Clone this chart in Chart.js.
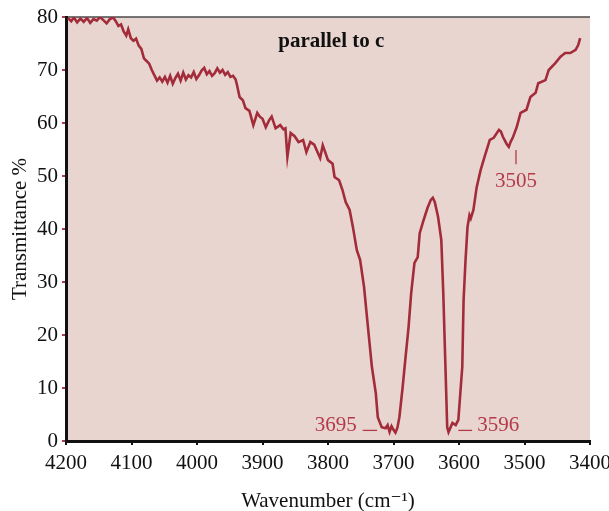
<!DOCTYPE html>
<html>
<head>
<meta charset="utf-8">
<script src="https://cdn.jsdelivr.net/npm/chart.js@4"></script>
<style>
  body { margin: 0; background: #fff; }
  #wrap { width: 609px; height: 511px; }
</style>
</head>
<body>
<div id="wrap"><canvas id="irChart" width="609" height="511"></canvas></div>
<script>
// spectrum (wavenumber cm-1, transmittance %)
const wavenumbers = [
  4197, 4192, 4188, 4183, 4178, 4173, 4168, 4163, 4158, 4153, 4148, 4143, 4138, 4133, 4128, 4124,
  4120, 4116, 4112, 4108, 4105, 4101, 4097, 4093, 4089, 4085, 4081, 4077, 4073, 4069, 4065, 4061,
  4057, 4053, 4049, 4045, 4041, 4037, 4033, 4029, 4025, 4021, 4017, 4013, 4009, 4005, 4001, 3997,
  3993, 3989, 3985, 3981, 3977, 3973, 3969, 3965, 3961, 3957, 3953, 3949, 3945, 3941, 3939, 3935,
  3930, 3926, 3920, 3914, 3908, 3904, 3900, 3895, 3890, 3886, 3880, 3873, 3868, 3865, 3862, 3857,
  3851, 3845, 3838, 3833, 3827, 3821, 3812, 3808, 3800, 3793, 3790, 3783, 3778, 3773, 3767, 3762,
  3756, 3751, 3745, 3739, 3733, 3727, 3724, 3718, 3712, 3709, 3706, 3703, 3700, 3697, 3694, 3691,
  3686, 3682, 3677, 3673, 3668, 3663, 3660, 3654, 3648, 3643, 3640, 3637, 3632, 3627, 3624, 3621,
  3618, 3616, 3610, 3605, 3601, 3595, 3593, 3590, 3587, 3584, 3582, 3578, 3573, 3567, 3561, 3553,
  3547, 3539, 3536, 3533, 3527, 3524, 3521, 3518, 3512, 3506, 3497, 3491, 3483, 3479, 3468, 3463,
  3453, 3445, 3438, 3430, 3422, 3418, 3415
];
const transmittance = [
  79.8, 79.2, 79.9, 79.0, 79.7, 79.1, 79.8, 78.9, 79.6, 79.3, 80.0, 79.4, 78.8, 79.6, 79.9, 79.2,
  78.3, 78.6, 77.3, 76.5, 77.7, 76.0, 75.5, 75.9, 74.6, 74.0, 72.2, 71.7, 71.2, 70.0, 69.0, 68.0,
  68.6, 67.8, 68.7, 67.6, 68.9, 67.4, 68.5, 69.3, 68.0, 69.5, 68.2, 69.0, 68.6, 69.6, 68.3, 69.0,
  69.9, 70.4, 69.2, 69.8, 68.9, 69.4, 70.3, 69.5, 70.0, 69.1, 69.6, 68.7, 68.9, 68.2, 67.2, 64.9,
  64.3, 62.8, 62.3, 59.6, 61.9, 61.2, 60.8, 59.2, 60.5, 61.2, 59.0, 59.6, 58.8, 59.0, 53.6, 58.1,
  57.5, 56.4, 56.8, 54.5, 56.4, 55.9, 53.4, 55.8, 53.0, 52.3, 49.8, 49.2, 47.4, 45.1, 43.6, 40.4,
  36.0, 34.2, 29.1, 21.5, 14.0, 9.0, 4.5, 2.6, 2.4, 3.0, 1.7, 2.8, 2.1, 1.6, 2.5, 4.5,
  10.2, 15.3, 21.5, 27.9, 33.6, 34.7, 39.2, 41.7, 44.0, 45.5, 45.9, 45.1, 42.3, 37.9, 27.9, 15.3,
  2.6, 1.7, 3.4, 3.0, 4.0, 14.0, 26.6, 34.2, 40.4, 42.6, 42.0, 43.6, 47.9, 51.1, 53.6, 56.8,
  57.2, 58.7, 58.4, 57.4, 56.0, 55.5, 56.5, 57.2, 59.2, 61.9, 62.5, 64.9, 65.7, 67.5, 68.1, 70.0,
  71.3, 72.5, 73.2, 73.2, 73.8, 74.7, 76.0
];

// peak labels: text, wavenumber and transmittance where the text sits
const peakLabels = ['3695', '3596', '3505'];
const peakLabelX = [3756, 3572, 3513];
const peakLabelY = [3.0, 3.0, 49.0];
const peakAlign = ['right', 'left', 'center'];
// short leader dashes next to the two deep bands (from / to wavenumber)
const dashFrom = [3747, 3601];
const dashTo = [3725, 3580];
const dashY = 2.0;

const xTicks = [4200, 4100, 4000, 3900, 3800, 3700, 3600, 3500, 3400];
const yTicks = [0, 10, 20, 30, 40, 50, 60, 70, 80];

const lineColor = '#a32c3a';
const serif = "'Liberation Serif', 'DejaVu Serif', serif";

const points = wavenumbers.map((w, i) => ({ x: w, y: transmittance[i] }));

// plot background, top border, title and peak labels
const decor = {
  id: 'decor',
  beforeDraw(chart) {
    const { ctx, chartArea: a } = chart;
    ctx.save();
    ctx.fillStyle = '#e9d5cf';
    ctx.fillRect(a.left, a.top, a.right - a.left, a.bottom - a.top);
    ctx.strokeStyle = '#4a4a4a';
    ctx.lineWidth = 1.5;
    ctx.beginPath();
    ctx.moveTo(a.left, a.top);
    ctx.lineTo(a.right, a.top);
    ctx.stroke();
    ctx.restore();
  },
  afterDraw(chart) {
    const { ctx, chartArea: a, scales } = chart;
    ctx.save();
    ctx.fillStyle = '#111';
    ctx.font = 'bold 21px ' + serif;
    ctx.textAlign = 'center';
    ctx.textBaseline = 'middle';
    ctx.fillText('parallel to c', scales.x.getPixelForValue(3795), a.top + 25);

    ctx.fillStyle = '#b33a4a';
    ctx.strokeStyle = '#b33a4a';
    ctx.font = '21px ' + serif;
    peakLabels.forEach((t, i) => {
      const px = scales.x.getPixelForValue(peakLabelX[i]);
      const py = scales.y.getPixelForValue(peakLabelY[i]);
      ctx.textAlign = peakAlign[i];
      ctx.fillText(t, px, py);
    });
    ctx.lineWidth = 1.3;
    dashFrom.forEach((f, i) => {
      const yy = scales.y.getPixelForValue(dashY);
      ctx.beginPath();
      ctx.moveTo(scales.x.getPixelForValue(f), yy);
      ctx.lineTo(scales.x.getPixelForValue(dashTo[i]), yy);
      ctx.stroke();
    });
    // small marker above the 3505 label
    const mx = scales.x.getPixelForValue(3513);
    ctx.beginPath();
    ctx.moveTo(mx, scales.y.getPixelForValue(54.9));
    ctx.lineTo(mx, scales.y.getPixelForValue(52.2));
    ctx.stroke();
    ctx.restore();
  }
};

new Chart(document.getElementById('irChart'), {
  type: 'line',
  data: {
    datasets: [{
      data: points,
      borderColor: lineColor,
      borderWidth: 2.6,
      pointRadius: 0,
      tension: 0,
      fill: false
    }]
  },
  options: {
    responsive: false,
    animation: false,
    layout: { padding: { top: 17, right: 19, left: 0, bottom: 0 } },
    plugins: { legend: { display: false }, tooltip: { enabled: false } },
    scales: {
      x: {
        type: 'linear',
        reverse: true,
        min: 3400,
        max: 4200,
        afterBuildTicks: s => { s.ticks = xTicks.map(v => ({ value: v })); },
        afterFit: s => { s.height = 70; s.paddingLeft = 0; s.paddingRight = 0; },
        ticks: { color: '#111', font: { family: serif, size: 21 }, padding: 6, maxRotation: 0, callback: v => String(v) },
        grid: { drawOnChartArea: false, drawTicks: true, tickLength: 4, color: '#111', lineWidth: 2 },
        border: { display: true, color: '#111', width: 3 },
        title: { display: true, text: 'Wavenumber (cm⁻¹)', color: '#111', font: { family: serif, size: 21 }, padding: { top: 0, bottom: -3 } }
      },
      y: {
        min: 0,
        max: 80,
        afterBuildTicks: s => { s.ticks = yTicks.map(v => ({ value: v })); },
        afterFit: s => { s.width = 66; },
        ticks: { color: '#111', font: { family: serif, size: 21 }, padding: 4, callback: v => String(v) },
        grid: { drawOnChartArea: false, drawTicks: true, tickLength: 4, color: '#b33a4a', lineWidth: 2 },
        border: { display: true, color: '#111', width: 3 },
        title: { display: true, text: 'Transmittance %', color: '#111', font: { family: serif, size: 21 }, padding: { top: 8, bottom: 0 } }
      }
    }
  },
  plugins: [decor]
});
</script>
</body>
</html>
